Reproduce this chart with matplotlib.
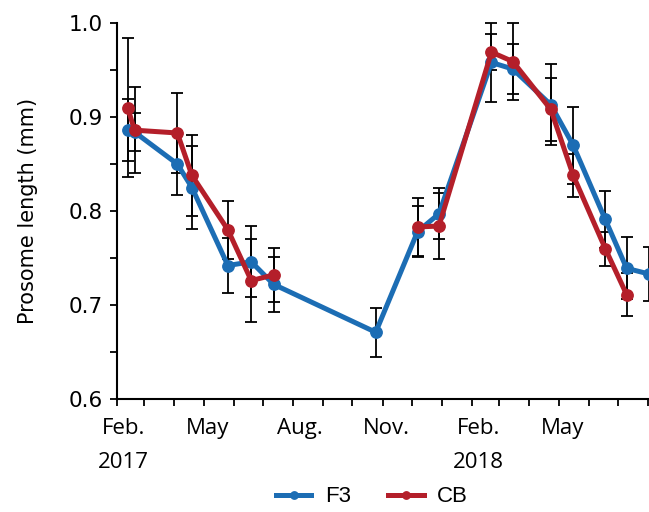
"""Prosome length of two stations (F3, CB) through 2017-2018."""

import matplotlib

matplotlib.use("Agg")
import matplotlib.dates as mdates
import matplotlib.pyplot as plt
import numpy as np
import pandas as pd
from matplotlib.ticker import FixedLocator, MultipleLocator

# sampling dates shared by both series
sample_dates = [
    "2017-02-12", "2017-02-19", "2017-04-04", "2017-04-19", "2017-05-26",
    "2017-06-19", "2017-07-12", "2017-10-25", "2017-12-07", "2017-12-29",
    "2018-02-21", "2018-03-15", "2018-04-23", "2018-05-16", "2018-06-18",
    "2018-07-10", "2018-08-02",
]

f3_mean = [0.886, 0.884, 0.850, 0.825, 0.742, 0.746, 0.722, 0.671, 0.778,
           0.797, 0.958, 0.951, 0.913, 0.870, 0.791, 0.739, 0.733]
f3_err = [0.033, 0.020, 0.033, 0.044, 0.029, 0.038, 0.029, 0.026, 0.027,
          0.027, 0.042, 0.027, 0.043, 0.041, 0.030, 0.033, 0.029]

cb_mean = [0.910, 0.886, 0.883, 0.838, 0.780, 0.726, 0.732, np.nan, 0.783,
           0.784, 0.969, 0.959, 0.908, 0.838, 0.760, 0.711, np.nan]
cb_err = [0.074, 0.046, 0.043, 0.043, 0.031, 0.044, 0.029, np.nan, 0.031,
          0.035, 0.019, 0.041, 0.034, 0.023, 0.018, 0.023, np.nan]

# labels sit a few days right of the month ticks, as in the original
label_dates = ["2017-02-08", "2017-05-05", "2017-08-08", "2017-11-05",
               "2018-02-08", "2018-05-05"]
tick_labels = ["Feb.\n2017", "May", "Aug.", "Nov.", "Feb.\n2018", "May"]

BLUE = "#1C6DB4"
RED = "#B41F2A"

dates = mdates.date2num(pd.to_datetime(sample_dates))

fig = plt.figure(figsize=(6.49, 5.12), dpi=100)
ax = fig.add_axes([117 / 649, 113 / 512, 533 / 649, 376 / 512])

err_kw = dict(fmt="none", ecolor="black", elinewidth=1.3, capsize=4.5,
              capthick=1.3, zorder=2, clip_on=False)
ax.errorbar(dates, f3_mean, yerr=f3_err, **err_kw)
ax.errorbar(dates, cb_mean, yerr=cb_err, **err_kw)

ax.plot(dates, f3_mean, color=BLUE, lw=3.6, marker="o", ms=8.2,
        label="F3", zorder=3, clip_on=False)
ax.plot(dates, cb_mean, color=RED, lw=3.6, marker="o", ms=8.2,
        label="CB", zorder=4, clip_on=False)

ax.set_xlim(mdates.date2num(pd.Timestamp("2017-02-01")),
            mdates.date2num(pd.Timestamp("2018-08-03")))
ax.set_ylim(0.6, 1.0)

ax.xaxis.set_major_locator(FixedLocator(mdates.date2num(pd.to_datetime(label_dates))))
ax.xaxis.set_minor_locator(mdates.MonthLocator())
ax.set_xticklabels(tick_labels, fontfamily="Open Sans", fontsize=16,
                   linespacing=1.8)

ax.set_yticks([0.6, 0.7, 0.8, 0.9, 1.0])
ax.set_yticklabels(["0.6", "0.7", "0.8", "0.9", "1.0"], fontfamily="DejaVu Sans",
                   fontsize=15.5)
ax.yaxis.set_minor_locator(MultipleLocator(0.05))

ax.tick_params(axis="y", which="both", direction="out", length=5,
               width=1.3, color="black", pad=5)
ax.tick_params(axis="x", which="major", length=0, pad=14)
ax.tick_params(axis="x", which="minor", direction="out", length=5,
               width=1.3, color="black")

for side in ("top", "right"):
    ax.spines[side].set_visible(False)
for side in ("left", "bottom"):
    ax.spines[side].set_linewidth(1.5)

ax.set_ylabel("Prosome length (mm)", fontfamily="DejaVu Sans", fontsize=15)
ax.yaxis.set_label_coords(-0.148, 0.5)

fig.legend(loc="center", bbox_to_anchor=(372 / 649, 1 - 497 / 512), ncol=2,
           frameon=False, prop={"family": "Liberation Sans", "size": 16},
           handlelength=1.6, handletextpad=0.6, columnspacing=1.7,
           markerscale=0.65)

fig.savefig("out.png", dpi=100)
